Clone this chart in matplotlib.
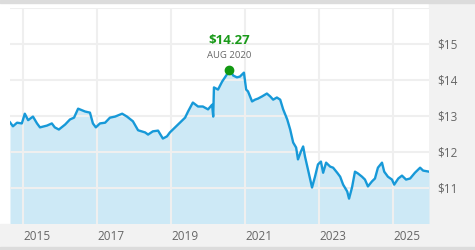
import numpy as np
import matplotlib
matplotlib.use("Agg")
import matplotlib.pyplot as plt
from matplotlib.patches import Rectangle

# ==============================================================
# DATA (decimal years / NAV in $)
# ==============================================================

years = [
    2014.65, 2014.73, 2014.84, 2014.97, 2015.05, 2015.14, 2015.27, 2015.38,
    2015.46, 2015.65, 2015.78, 2015.86, 2015.97, 2016.14, 2016.27, 2016.38,
    2016.49, 2016.68, 2016.81, 2016.89, 2016.97, 2017.08, 2017.22, 2017.35,
    2017.49, 2017.68, 2017.81, 2017.97, 2018.11, 2018.30, 2018.38, 2018.51,
    2018.65, 2018.78, 2018.89, 2018.97, 2019.11, 2019.24, 2019.38, 2019.46,
    2019.59, 2019.73, 2019.86, 2020.00, 2020.11, 2020.14, 2020.16, 2020.27,
    2020.38, 2020.51, 2020.58, 2020.68, 2020.78, 2020.86, 2020.97, 2021.03,
    2021.08, 2021.19, 2021.27, 2021.35, 2021.46, 2021.59, 2021.68, 2021.76,
    2021.86, 2021.95, 2022.03, 2022.14, 2022.22, 2022.30, 2022.38, 2022.43,
    2022.51, 2022.57, 2022.62, 2022.70, 2022.81, 2022.89, 2022.97, 2023.05,
    2023.11, 2023.19, 2023.30, 2023.38, 2023.49, 2023.57, 2023.65, 2023.76,
    2023.81, 2023.89, 2023.97, 2024.05, 2024.16, 2024.24, 2024.32, 2024.43,
    2024.51, 2024.59, 2024.70, 2024.76, 2024.86, 2024.97, 2025.03, 2025.14,
    2025.24, 2025.35, 2025.46, 2025.59, 2025.73, 2025.81, 2025.97,
]

nav = [
    12.81, 12.70, 12.80, 12.78, 13.05, 12.87, 12.97, 12.78,
    12.67, 12.72, 12.78, 12.67, 12.61, 12.75, 12.89, 12.94,
    13.19, 13.11, 13.08, 12.78, 12.67, 12.78, 12.80, 12.94,
    12.97, 13.05, 12.97, 12.84, 12.59, 12.53, 12.47, 12.56,
    12.58, 12.36, 12.42, 12.53, 12.67, 12.80, 12.94, 13.11,
    13.36, 13.25, 13.25, 13.17, 13.30, 12.97, 13.78, 13.72,
    13.94, 14.14, 14.27, 14.11, 14.06, 14.08, 14.19, 13.72,
    13.67, 13.39, 13.44, 13.47, 13.53, 13.61, 13.53, 13.44,
    13.50, 13.44, 13.17, 12.89, 12.61, 12.25, 12.11, 11.78,
    12.00, 12.14, 11.86, 11.50, 11.00, 11.30, 11.64, 11.72,
    11.41, 11.69, 11.58, 11.55, 11.41, 11.30, 11.08, 10.89,
    10.69, 11.00, 11.44, 11.39, 11.30, 11.22, 11.03, 11.17,
    11.25, 11.55, 11.69, 11.44, 11.30, 11.22, 11.08, 11.25,
    11.33, 11.22, 11.25, 11.41, 11.55, 11.47, 11.44,
]

year_ticks = [2015, 2017, 2019, 2021, 2023, 2025]
price_ticks = [11, 12, 13, 14, 15, 16]
price_labels = ["$11", "$12", "$13", "$14", "$15", ""]

peak_year = 2020.58
peak_value = 14.27
peak_label = "AUG 2020"

# ==============================================================
# FIGURE
# ==============================================================

W, H = 475, 250
plt.rcParams["font.family"] = ["Open Sans", "DejaVu Sans"]
fig = plt.figure(figsize=(W / 100, H / 100), dpi=100, facecolor="white")

# background panels (pixel coordinates)
def px_rect(x0, y0, x1, y1, color):
    fig.patches.append(Rectangle((x0 / W, 1 - y1 / H), (x1 - x0) / W, (y1 - y0) / H,
                                 transform=fig.transFigure, color=color, zorder=-10))

px_rect(429, 0, W, H, "#f2f2f2")     # right label panel
px_rect(0, 223.5, W, H, "#f2f2f2")   # bottom label band
px_rect(0, 0, W, 2.5, "#dcdcdc")     # top rule
px_rect(0, 247, W, H, "#dcdcdc")     # bottom rule

ax = fig.add_axes([10 / W, 1 - 223.5 / H, (429 - 10) / W, 216 / H])
ax.set_facecolor("white")

ax.fill_between(years, nav, 10, color="#cde9f6", lw=0, zorder=1)
ax.plot(years, nav, color="#1799d8", lw=1.7, zorder=3)

ax.set_xlim(2014.65, 2025.97)
ax.set_ylim(10, 16)

ax.set_yticks(price_ticks)
ax.set_yticklabels(price_labels)
ax.yaxis.tick_right()
ax.set_xticks(year_ticks)
ax.set_xticklabels([str(y) for y in year_ticks], ha="left")

ax.tick_params(axis="both", length=0, colors="#666666", labelsize=8.5)
ax.tick_params(axis="y", pad=6)
ax.tick_params(axis="x", pad=5)
ax.grid(True, color="#efefef", lw=1.5)
for line in ax.get_xgridlines() + ax.get_ygridlines():
    line.set_zorder(2)

for sp in ax.spines.values():
    sp.set_visible(False)

# peak marker + annotation
ax.plot([peak_year], [peak_value], "o", color="#129912", ms=6, zorder=4)
ax.annotate(f"${peak_value:.2f}", (peak_year, peak_value), xytext=(0, 21),
            textcoords="offset points", ha="center", va="center",
            color="#1a9a1a", fontsize=9.5, fontweight="bold")
ax.annotate(peak_label, (peak_year, peak_value), xytext=(0, 10.5),
            textcoords="offset points", ha="center", va="center",
            color="#666666", fontsize=6.8)

fig.savefig("out.png", dpi=100, facecolor=fig.get_facecolor())
